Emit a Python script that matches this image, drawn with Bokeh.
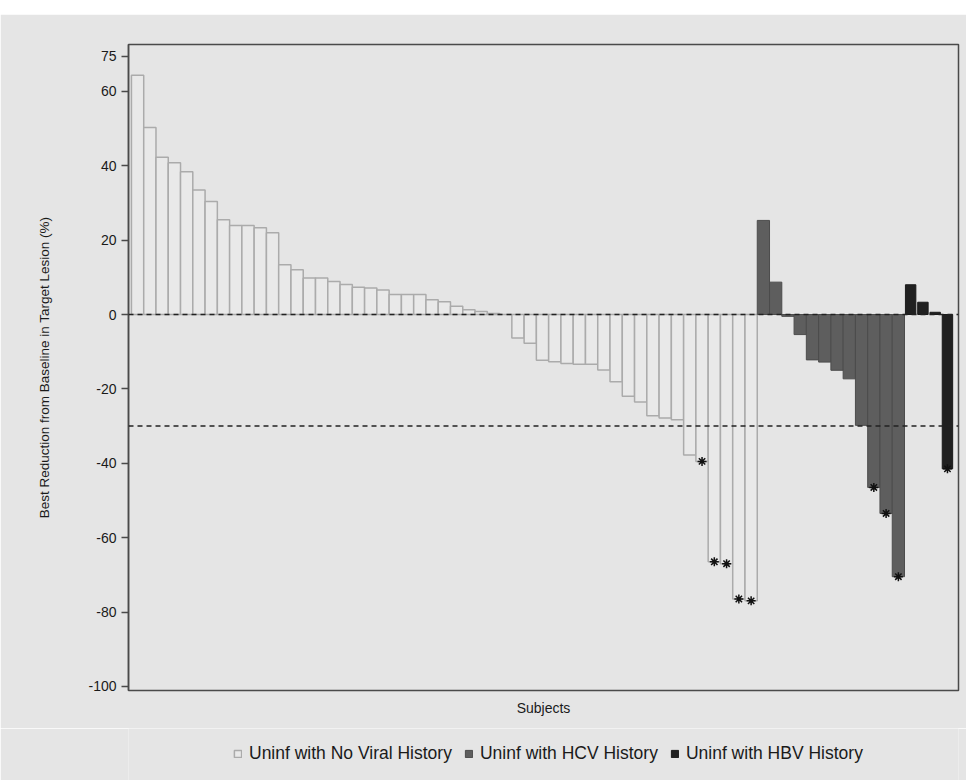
from bokeh.plotting import figure
from bokeh.models import Span, Legend, LegendItem, FixedTicker, ColumnDataSource, Spacer
from bokeh.layouts import column
from bokeh.embed import file_html
from bokeh.resources import INLINE

# ---- data ----
no_viral = [64.3, 50.3, 42.3, 40.8, 38.4, 33.5, 30.4, 25.5, 23.9, 23.9,
            23.3, 22.0, 13.4, 12.0, 9.8, 9.8, 8.9, 8.1, 7.3, 7.1,
            6.6, 5.4, 5.4, 5.4, 4.0, 3.4, 2.2, 1.3, 0.8, 0.3, 0.0,
            -6.3, -7.7, -12.3, -12.7, -13.2, -13.4, -13.4, -14.9, -18.1, -22.0,
            -23.5, -27.2, -27.8, -28.3, -37.8, -39.5, -66.5, -67.0, -76.5, -77.0]
hcv = [25.3, 8.7, -0.5, -5.4, -12.2, -12.8, -15.0, -17.3, -29.8, -46.5, -53.5, -70.5]
hbv = [8.0, 3.3, 0.6, -41.5]
# subjects (1-based order along the x axis) marked with an asterisk
starred = [47, 48, 49, 50, 51, 61, 62, 63, 67]

group_names = ["Uninf with No Viral History", "Uninf with HCV History", "Uninf with HBV History"]
y_ticks = [-100, -80, -60, -40, -20, 0, 20, 40, 60, 69.5]
y_tick_labels = ["-100", "-80", "-60", "-40", "-20", "0", "20", "40", "60", "75"]
ref_lines = [0, -30]

FONT = "Liberation Sans"
BG = "#e5e5e5"
styles = [dict(fill_color="#e9e9e9", line_color="#ababab", line_width=1.5),
          dict(fill_color="#5e5e5e", line_color="#4c4c4c", line_width=1.0),
          dict(fill_color="#202020", line_color="#1a1a1a", line_width=1.0)]

n1, n2, n3 = len(no_viral), len(hcv), len(hbv)
x1 = list(range(1, n1 + 1))
x2 = list(range(n1 + 1, n1 + n2 + 1))
x3 = list(range(n1 + n2 + 1, n1 + n2 + n3 + 1))
groups = [(x1, no_viral, 1.0), (x2, hcv, 1.0), (x3, hbv, 0.85)]
all_vals = no_viral + hcv + hbv

p = figure(width=966, height=714, output_backend="svg", toolbar_location=None,
           x_range=(0.26, n1 + n2 + n3 + 0.9), y_range=(-101.1, 72.6),
           min_border_left=128, min_border_right=8, min_border_top=30, min_border_bottom=38)
p.background_fill_color = BG
p.border_fill_color = BG
p.outline_line_color = "#4a4a4a"
p.outline_line_width = 1.5
p.grid.visible = False

for (xs, vals, w), st in zip(groups, styles):
    p.vbar(x=xs, top=vals, bottom=0, width=w, **st)

for loc in ref_lines:
    p.add_layout(Span(location=loc, dimension="width", line_color="#222222",
                      line_width=1.5, line_dash="5 4"))

star_src = ColumnDataSource(dict(x=starred, y=[all_vals[s - 1] for s in starred]))
p.scatter(x="x", y="y", source=star_src, marker="asterisk", size=9,
          line_color="#111111", line_width=1.5)

# y axis
p.yaxis.ticker = FixedTicker(ticks=y_ticks)
p.yaxis.major_label_overrides = {t: l for t, l in zip(y_ticks, y_tick_labels)}
p.yaxis.axis_label = "Best Reduction from Baseline in Target Lesion (%)"
p.yaxis.axis_label_text_font = FONT
p.yaxis.axis_label_text_font_size = "13.5px"
p.yaxis.axis_label_text_font_style = "normal"
p.yaxis.axis_label_text_color = "#1a1a1a"
p.yaxis.axis_label_standoff = 33
p.yaxis.major_label_text_font = FONT
p.yaxis.major_label_text_font_size = "14px"
p.yaxis.major_label_text_color = "#1a1a1a"
p.yaxis.major_label_standoff = 5
p.yaxis.axis_line_color = "#4a4a4a"
p.yaxis.axis_line_width = 1.5
p.yaxis.major_tick_line_color = "#4a4a4a"
p.yaxis.major_tick_line_width = 1.5
p.yaxis.major_tick_out = 7
p.yaxis.major_tick_in = 0
p.yaxis.minor_tick_line_color = None

# x axis
p.xaxis.ticker = FixedTicker(ticks=[])
p.xaxis.axis_label = "Subjects"
p.xaxis.axis_label_text_font = FONT
p.xaxis.axis_label_text_font_size = "14px"
p.xaxis.axis_label_text_font_style = "normal"
p.xaxis.axis_label_text_color = "#1a1a1a"
p.xaxis.axis_label_standoff = 9
p.xaxis.axis_line_color = "#4a4a4a"
p.xaxis.major_tick_line_color = None
p.xaxis.minor_tick_line_color = None

# legend strip below the chart (hidden copies of the bar renderers feed the legend)
lg = figure(width=966, height=52, output_backend="svg", toolbar_location=None,
            x_axis_location=None, y_axis_location=None,
            min_border_left=0, min_border_right=0, min_border_top=0, min_border_bottom=0)
lg.background_fill_color = BG
lg.border_fill_color = BG
lg.outline_line_color = None
lg.grid.visible = False
items = []
for name, (xs, vals, w), st in zip(group_names, groups, styles):
    r = lg.vbar(x=xs, top=vals, bottom=0, width=w, visible=False, **st)
    items.append(LegendItem(label=name, renderers=[r]))
legend = Legend(items=items, orientation="horizontal", location=(105, 16),
                glyph_width=9, glyph_height=9, label_standoff=7, spacing=12,
                label_text_font=FONT, label_text_font_size="17.5px",
                label_text_color="#1a1a1a",
                inactive_fill_alpha=0,
                background_fill_alpha=0, border_line_color=None,
                padding=0, margin=0)
lg.add_layout(legend, "center")

layout = column(Spacer(height=14, width=966), p, lg, spacing=0)
open("out.html", "w").write(file_html(layout, INLINE))
